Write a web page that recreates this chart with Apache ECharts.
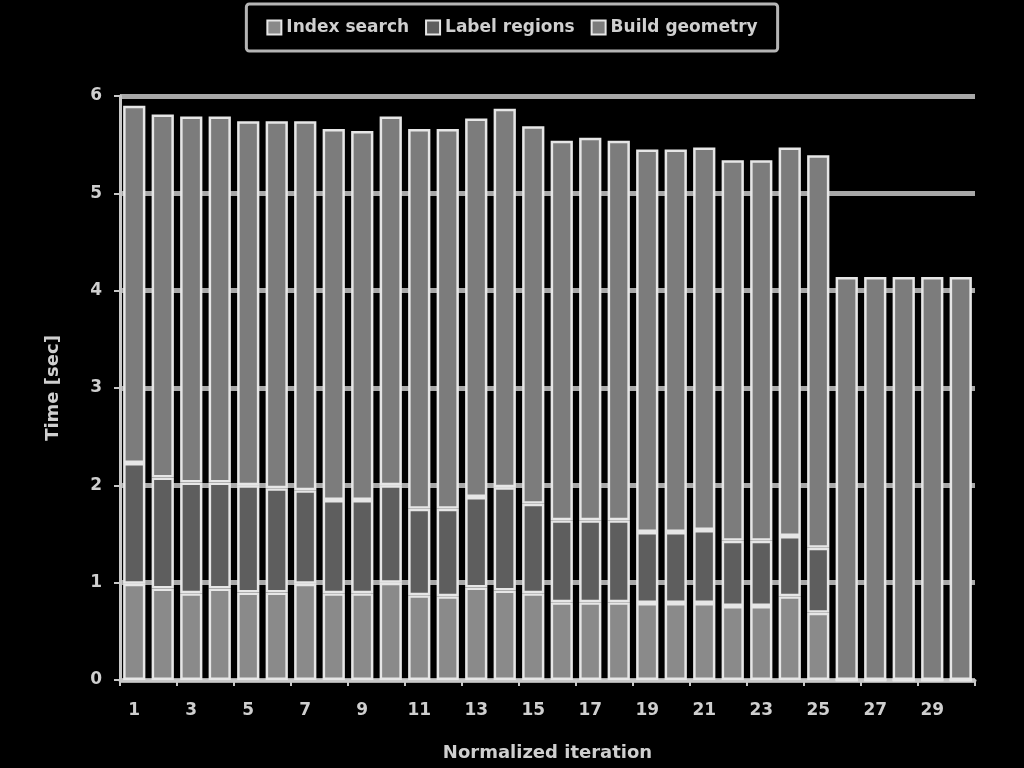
<!DOCTYPE html>
<html>
<head>
<meta charset="utf-8">
<script src="https://cdn.jsdelivr.net/npm/echarts@6/dist/echarts.min.js"></script>
<style>
html,body{margin:0;padding:0;background:#000;}
#chart{width:1024px;height:768px;}
</style>
</head>
<body>
<div id="chart"></div>
<script>
const categories = Array.from({length:30}, (_, i) => String(i + 1));
const indexSearch = [0.99,0.94,0.89,0.94,0.90,0.90,0.99,0.89,0.89,1.00,0.87,0.86,0.95,0.92,0.89,0.80,0.80,0.80,0.79,0.79,0.79,0.76,0.76,0.86,0.69,0,0,0,0,0];
const labelRegions = [1.24,1.14,1.14,1.09,1.10,1.07,0.96,0.96,0.96,1.00,0.89,0.90,0.93,1.06,0.92,0.84,0.84,0.84,0.73,0.73,0.75,0.67,0.67,0.62,0.67,0,0,0,0,0];
const buildGeometry = [3.67,3.73,3.76,3.76,3.74,3.77,3.79,3.81,3.79,3.79,3.90,3.90,3.89,3.89,3.88,3.90,3.93,3.90,3.93,3.93,3.93,3.91,3.91,3.99,4.03,4.14,4.14,4.14,4.14,4.14];
const yTicks = [0,1,2,3,4,5,6];
const seriesNames = ['Index search','Label regions','Build geometry'];

const chart = echarts.init(document.getElementById('chart'));
const txt = '#cfcfcf';
const font = 'DejaVu Sans';
function bar(name, data, fill) {
  return {
    name: name, type: 'bar', stack: 'total', data: data,
    barCategoryGap: '22%',
    itemStyle: {color: fill, borderColor: '#e6e6e6', borderWidth: 2.5}
  };
}
chart.setOption({
  backgroundColor: '#000',
  animation: false,
  textStyle: {fontFamily: font, color: txt},
  legend: {
    top: 4, left: 'center',
    data: seriesNames,
    borderColor: '#b5b5b5', borderWidth: 3, borderRadius: 3,
    padding: [15, 20],
    itemWidth: 14, itemHeight: 14, itemGap: 16,
    icon: 'rect',
    textStyle: {color: txt, fontSize: 17, fontFamily: font, fontWeight: 'bold'}
  },
  grid: {left: 120, right: 49, top: 96, bottom: 88, containLabel: false},
  xAxis: {
    type: 'category', data: categories,
    name: 'Normalized iteration', nameLocation: 'middle', nameGap: 64,
    nameTextStyle: {color: txt, fontSize: 18, fontWeight: 'bold', fontFamily: font},
    axisLine: {show: true, lineStyle: {color: '#c8c8c8', width: 3}},
    axisTick: {show: true, alignWithLabel: false, length: 6, lineStyle: {color: '#c8c8c8', width: 2}},
    axisLabel: {interval: 1, color: txt, fontSize: 17, fontWeight: 'bold', margin: 22}
  },
  yAxis: {
    type: 'value', min: yTicks[0], max: yTicks[yTicks.length - 1], interval: 1,
    name: 'Time [sec]', nameLocation: 'middle', nameGap: 58, nameRotate: 90,
    nameTextStyle: {color: txt, fontSize: 18, fontWeight: 'bold', fontFamily: font},
    axisLine: {show: true, lineStyle: {color: '#c8c8c8', width: 3}},
    axisTick: {show: true, length: 6, lineStyle: {color: '#c8c8c8', width: 2}},
    axisLabel: {color: txt, fontSize: 17, fontWeight: 'bold', margin: 18},
    splitLine: {show: true, lineStyle: {color: '#a8a8a8', width: 5}}
  },
  series: [
    bar(seriesNames[0], indexSearch, '#8a8a8a'),
    bar(seriesNames[1], labelRegions, '#5e5e5e'),
    bar(seriesNames[2], buildGeometry, '#7c7c7c')
  ]
});
</script>
</body>
</html>
